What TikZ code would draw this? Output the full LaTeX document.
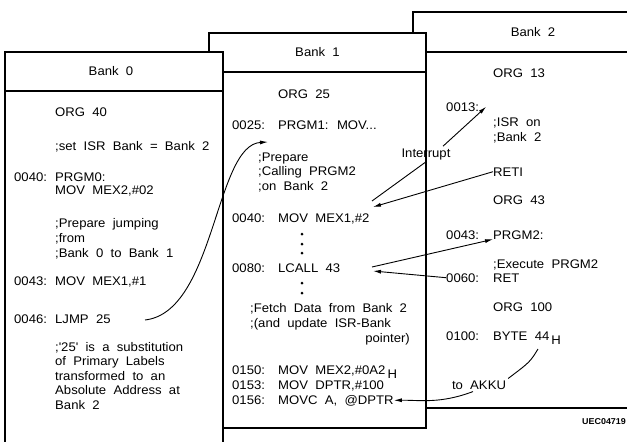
\documentclass[tikz,border=0pt]{standalone}
\usepackage{fontspec}
\setmainfont{Liberation Sans}[FakeStretch=1.05, WordSpace=2]
\usetikzlibrary{arrows.meta,calc}

\begin{document}
\begin{tikzpicture}[x=1pt, y=-1pt,
  bank/.style={draw, line width=2pt, fill=white},
  head/.style={inner sep=0pt, font=\fontsize{12.5}{15}\selectfont},
  code/.style={anchor=base west, inner sep=0pt, font=\fontsize{12.5}{15}\selectfont},
  lbl/.style={inner sep=2pt, font=\fontsize{12.5}{15}\selectfont},
  arrow/.style={-{Latex[length=8pt,width=4pt]}, line width=0.9pt},
  link/.style={line width=0.9pt},
  dot/.style={circle, fill=black, inner sep=0pt, minimum size=3pt}
]
\useasboundingbox (0,0) rectangle (627,442);

% Bank frames (back to front)
\path[bank] (413,12) rectangle (660,408);
\draw[line width=2pt] (413,52) -- (660,52);
\path[bank] (209,33) rectangle (426,428);
\draw[line width=2pt] (209,72) -- (426,72);
\path[bank] (5,52) rectangle (223,470);
\draw[line width=2pt] (5,91) -- (223,91);

% Bank 0
\node[head] (t0) at (111,71.5) {Bank 0};
\node[code] (b0org) at (55,116) {ORG 40};
\node[code] (b0isr) at (55,150) {;set ISR Bank = Bank 2};
\node[code] (b0a040) at (14,181) {0040:};
\node[code] (b0prg) at (55,181) {PRGM0:};
\node[code] (b0mov2) at (55,194) {MOV MEX2,\#02};
\node[code] (b0c1) at (55,227) {;Prepare jumping};
\node[code] (b0c2) at (55,242) {;from};
\node[code] (b0c3) at (55,257) {;Bank 0 to Bank 1};
\node[code] (b0a043) at (14,285) {0043:};
\node[code] (b0mov1) at (55,285) {MOV MEX1,\#1};
\node[code] (b0a046) at (14,323) {0046:};
\node[code] (b0ljmp) at (55,323) {LJMP 25};
\node[code] (b0n1) at (55,351) {;\textquotesingle 25\textquotesingle{} is a substitution};
\node[code] (b0n2) at (55,365.5) {of Primary Labels};
\node[code] (b0n3) at (55,380) {transformed to an};
\node[code] (b0n4) at (55,394.5) {Absolute Address at};
\node[code] (b0n5) at (55,409) {Bank 2};

% Bank 1
\node[head] (t1) at (317.5,52.5) {Bank 1};
\node[code] (b1org) at (278,98) {ORG 25};
\node[code] (b1a025) at (232,129) {0025:};
\node[code] (b1prg) at (278,129) {PRGM1: MOV...};
\node[code] (b1c1) at (258,161) {;Prepare};
\node[code] (b1c2) at (258,175.5) {;Calling PRGM2};
\node[code] (b1c3) at (258,190) {;on Bank 2};
\node[code] (b1a040) at (232,222) {0040:};
\node[code] (b1mov1) at (278,222) {MOV MEX1,\#2};
\node[dot] (d1) at (302,234) {};
\node[dot] (d2) at (302,244) {};
\node[dot] (d3) at (302,253) {};
\node[code] (b1a080) at (232,272) {0080:};
\node[code] (b1call) at (278,272) {LCALL 43};
\node[dot] (d4) at (302,283) {};
\node[dot] (d5) at (302,293) {};
\node[code] (b1f1) at (250,312) {;Fetch Data from Bank 2};
\node[code] (b1f2) at (250,327) {;(and update ISR-Bank};
\node[code, anchor=base east] (b1f3) at (410,342) {pointer)};
\node[code] (b1a150) at (232,374) {0150:};
\node[code] (b1mov2) at (278,374) {MOV MEX2,\#0A2\,\raisebox{-4pt}{H}};
\node[code] (b1a153) at (232,389) {0153:};
\node[code] (b1dptr) at (278,389) {MOV DPTR,\#100};
\node[code] (b1a156) at (232,404) {0156:};
\node[code] (b1movc) at (278,404) {MOVC A, @DPTR};

% Bank 2
\node[head] (t2) at (533,32) {Bank 2};
\node[code] (b2org1) at (493,77) {ORG 13};
\node[code] (b2a013) at (446,111) {0013:};
\node[code] (b2c1) at (493,126) {;ISR on};
\node[code] (b2c2) at (493,141) {;Bank 2};
\node[code] (b2reti) at (493,176) {RETI};
\node[code] (b2org2) at (493,204) {ORG 43};
\node[code] (b2a043) at (446,239) {0043:};
\node[code] (b2prg) at (493,239) {PRGM2:};
\node[code] (b2ex) at (493,268) {;Execute PRGM2};
\node[code] (b2a060) at (446,282) {0060:};
\node[code] (b2ret) at (493,282) {RET};
\node[code] (b2org3) at (493,311) {ORG 100};
\node[code] (b2a100) at (446,340) {0100:};
\node[code] (b2byte) at (493,340) {BYTE 44\,\raisebox{-4pt}{H}};
\node[lbl] (akku) at (479,385) {to AKKU};
\node[lbl] (intr) at (426,154) {Interrupt};
\node[anchor=base west, inner sep=0pt, font=\fontsize{8.5}{10}\selectfont\bfseries] (ref) at (582,424) {UEC04719};

% Connections
\coordinate (ljmpOut) at (145,320);
\coordinate (prepIn) at (268,142);
\coordinate (intrFrom) at (372,201);
\coordinate (retiTo) at (373,207);
\coordinate (callOut) at (372,267);
\coordinate (callIn) at (373,271);
\coordinate (byteOut) at (538,349);

\draw[arrow] (ljmpOut) .. controls (215,312) and (215,145) .. (prepIn);
\draw[link] (intrFrom) -- (intr.south);
\draw[arrow] ($(intr.north)+(17,0)$) -- ($(b2a013.east)+(7,0)$);
\draw[arrow] (b2reti.west) -- (retiTo);
\draw[arrow] (callOut) -- (b2prg.south west);
\draw[arrow] (b2a060.west) -- (callIn);
\draw[link] (byteOut) .. controls (530,362) .. (akku.north east);
\draw[arrow] ($(akku.south)+(-6,0)$) .. controls (440,404) and (420,400) .. (b1movc.east);

\end{tikzpicture}
\end{document}
